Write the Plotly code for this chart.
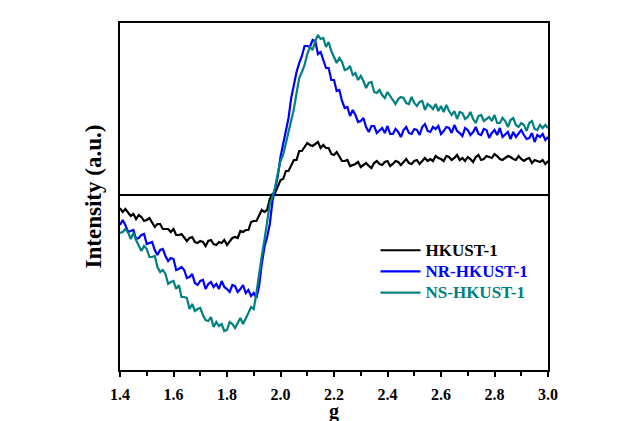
import numpy as np
import plotly.graph_objects as go

# g-value grid (1.40 ... 3.00, step 0.01)
g = np.round(np.arange(1.40, 3.0001, 0.01), 2)

hkust = [
    -13, -17, -14, -18, -21, -19, -24, -20, -22, -26,
    -25, -23, -28, -32, -29, -29, -34, -34, -34, -37,
    -34, -40, -40, -39, -42, -46, -43, -42, -47, -48,
    -46, -47, -51, -46, -45, -49, -50, -47, -48, -45,
    -50, -47, -43, -42, -43, -36, -37, -35, -35, -27,
    -26, -26, -21, -15, -17, -15, -4, 1, 2, 9,
    15, 16, 24, 24, 30, 35, 35, 44, 44, 48,
    52, 50, 49, 51, 53, 47, 50, 47, 47, 41,
    40, 43, 39, 34, 34, 35, 29, 30, 31, 33,
    28, 30, 32, 29, 27, 32, 34, 31, 30, 33,
    34, 29, 31, 34, 33, 30, 33, 36, 32, 31,
    34, 35, 31, 34, 37, 34, 36, 34, 39, 37,
    36, 34, 39, 38, 35, 37, 40, 35, 37, 34,
    38, 36, 33, 38, 40, 35, 36, 39, 38, 37,
    41, 39, 36, 35, 37, 39, 38, 36, 35, 39,
    36, 34, 36, 37, 32, 35, 34, 33, 35, 31,
    34,
]

nr_hkust = [
    -30, -25, -30, -37, -36, -35, -44, -43, -40, -39,
    -49, -48, -47, -55, -60, -55, -54, -61, -66, -63,
    -64, -75, -74, -72, -75, -83, -82, -79, -88, -90,
    -86, -85, -94, -89, -87, -92, -89, -94, -86, -92,
    -94, -97, -90, -91, -97, -94, -90, -98, -95, -101,
    -98, -103, -91, -69, -52, -42, -29, -6, 6, 19,
    38, 51, 63, 77, 97, 112, 123, 132, 139, 149,
    149, 148, 155, 154, 141, 143, 135, 127, 127, 115,
    115, 104, 105, 94, 87, 88, 79, 85, 80, 73,
    74, 77, 68, 63, 69, 69, 62, 65, 67, 62,
    69, 61, 61, 66, 63, 58, 65, 68, 62, 61,
    66, 65, 60, 68, 71, 64, 63, 68, 66, 69,
    61, 64, 68, 67, 62, 70, 64, 62, 59, 67,
    65, 60, 63, 68, 61, 60, 66, 65, 57, 62,
    65, 60, 67, 58, 61, 63, 56, 63, 58, 62,
    65, 60, 56, 57, 62, 53, 60, 58, 61, 55,
    58,
]

ns_hkust = [
    -38, -37, -34, -37, -44, -38, -45, -50, -56, -51,
    -54, -62, -62, -61, -72, -77, -75, -79, -89, -87,
    -86, -94, -90, -102, -102, -103, -114, -109, -116, -114,
    -113, -120, -125, -126, -122, -132, -127, -131, -129, -136,
    -135, -127, -129, -133, -128, -123, -129, -124, -118, -112,
    -114, -98, -78, -61, -45, -25, -9, -2, 8, 22,
    34, 40, 52, 65, 74, 86, 102, 117, 123, 130,
    141, 148, 145, 154, 160, 156, 157, 148, 153, 144,
    138, 132, 137, 133, 125, 126, 129, 120, 122, 115,
    119, 114, 107, 112, 113, 103, 102, 105, 100, 97,
    103, 99, 94, 91, 96, 98, 97, 92, 91, 98,
    92, 89, 93, 94, 85, 91, 89, 86, 91, 84,
    89, 83, 90, 84, 80, 84, 76, 83, 82, 76,
    78, 83, 76, 72, 79, 80, 74, 76, 78, 74,
    80, 72, 72, 77, 74, 68, 75, 77, 70, 68,
    72, 70, 64, 72, 74, 66, 65, 70, 67, 70,
    67,
]

series = [
    ("HKUST-1", hkust, "#000000"),
    ("NR-HKUST-1", nr_hkust, "#0000FF"),
    ("NS-HKUST-1", ns_hkust, "#008080"),
]

FONT = "Liberation Serif"

fig = go.Figure()
for name, vals, color in series:
    fig.add_trace(go.Scatter(
        x=g, y=vals, mode="lines",
        name=f"<span style='color:{color};font-size:17px;font-weight:bold'>{name}</span>",
        line=dict(color=color, width=2.2),
    ))

fig.update_layout(
    width=624, height=421,
    margin=dict(l=120, r=76, t=23, b=51),
    paper_bgcolor="white", plot_bgcolor="white",
    font=dict(family=FONT, size=16, color="black", weight="bold"),
    showlegend=True,
    legend=dict(
        x=0.597, y=0.39, xanchor="left", yanchor="top",
        bgcolor="rgba(0,0,0,0)", borderwidth=0,
        font=dict(family=FONT, size=14, weight="bold"),
        itemwidth=40, tracegroupgap=0,
    ),
)

# x-axis title, placed low under the tick labels
fig.add_annotation(
    text="g", xref="paper", yref="paper", x=0.5, y=-0.081,
    xanchor="center", yanchor="top", showarrow=False,
    font=dict(family=FONT, size=20, weight="bold", color="black"),
)

fig.update_xaxes(
    range=[1.4, 3.0], dtick=0.2, tick0=1.4, tickformat=".1f",
    ticks="outside", ticklen=5, tickwidth=1.5, tickcolor="black",
    minor=dict(dtick=0.1, ticks="outside", ticklen=4, tickwidth=1.5, tickcolor="black"),
    showline=True, linecolor="black", linewidth=2, mirror=True,
    showgrid=False, zeroline=False, automargin=False,
    ticklabelstandoff=4,
    tickfont=dict(family=FONT, size=16, weight="bold"),
)

fig.update_yaxes(
    range=[-175, 172],
    showticklabels=False, ticks="",
    showline=True, linecolor="black", linewidth=2, mirror=True,
    showgrid=False, automargin=False,
    zeroline=True, zerolinecolor="black", zerolinewidth=2,
    title=dict(text="Intensity (a.u.)", font=dict(family=FONT, size=23, weight="bold"), standoff=10),
)

fig.write_html("out.html")
